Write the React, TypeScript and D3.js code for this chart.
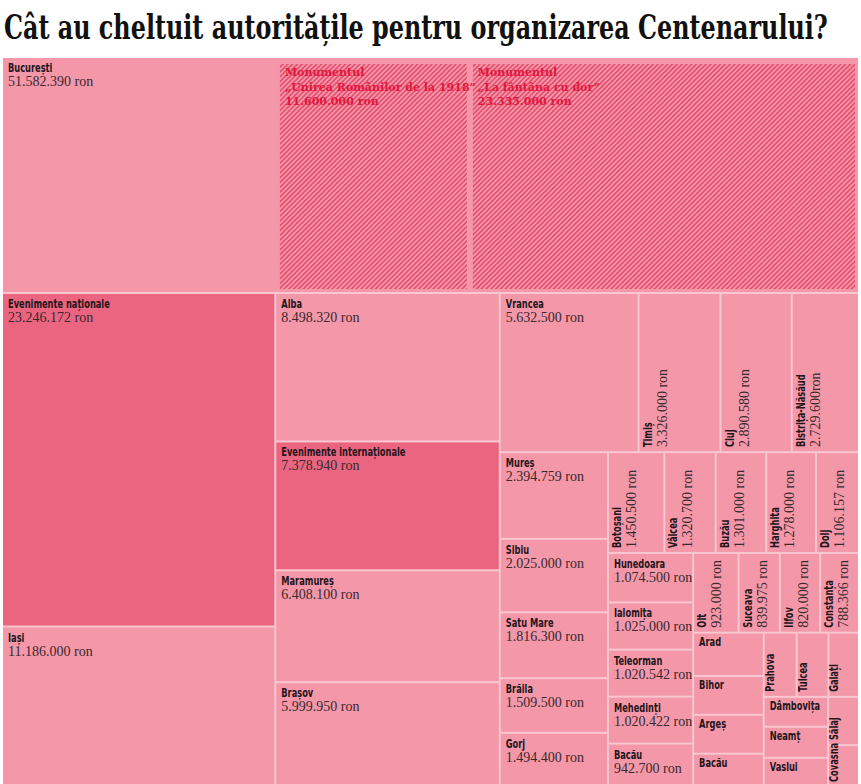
import React, { useLayoutEffect, useRef, useState } from "react";
import * as d3 from "d3";

type Item = [string, number];

const titlu = "Cât au cheltuit autoritățile pentru organizarea Centenarului?";

// Bucureşti, cu cele două monumente desenate în interior
const bucuresti: Item = ["București", 51582390];
const monumente: Item[] = [
  ["Monumentul|„Unirea Românilor de la 1918”|11.600.000 ron", 11600000],
  ["Monumentul|„La fântâna cu dor”|23.335.000 ron", 23335000],
];

const colA: Item[] = [
  ["Evenimente naționale", 23246172],
  ["Iași", 11186000],
];
const colB: Item[] = [
  ["Alba", 8498320],
  ["Evenimente internaționale", 7378940],
  ["Maramureș", 6408100],
  ["Brașov", 5999950],
];
const randC1: Item[] = [
  ["Vrancea", 5632500],
  ["Timiș", 3326000],
  ["Cluj", 2890580],
  ["Bistrița-Năsăud", 2729600],
];
const colC2: Item[] = [
  ["Mureș", 2394759],
  ["Sibiu", 2025000],
  ["Satu Mare", 1816300],
  ["Brăila", 1509500],
  ["Gorj", 1494400],
];
const randD: Item[] = [
  ["Botoșani", 1450500],
  ["Vâlcea", 1320700],
  ["Buzău", 1301000],
  ["Harghita", 1278000],
  ["Dolj", 1106157],
];
const colE: Item[] = [
  ["Hunedoara", 1074500],
  ["Ialomița", 1025000],
  ["Teleorman", 1020542],
  ["Mehedinți", 1020422],
  ["Bacău", 942700],
];
const randF: Item[] = [
  ["Olt", 923000],
  ["Suceava", 839975],
  ["Ilfov", 820000],
  ["Constanța", 788366],
];
// fără sumă afişată: valori estimate după suprafaţă
const colG: Item[] = [
  ["Arad", 780000],
  ["Bihor", 700000],
  ["Argeș", 700000],
  ["Bacău", 600000],
];
const randH: Item[] = [
  ["Prahova", 540000],
  ["Tulcea", 520000],
  ["Galați", 500000],
];
const colI: Item[] = [
  ["Dâmbovița", 490000],
  ["Neamț", 510000],
  ["Vaslui", 480000],
];
const colJ: Item[] = [
  ["Sălaj", 380000],
  ["Covasna", 330000],
];

const evenimente = ["Evenimente naționale", "Evenimente internaționale"];
const faraSpatiu = ["Bistrița-Năsăud"];

const W = 861;
const H = 784;
const X0 = 3;
const Y0 = 58;
const X1 = 858;
const Y1 = 786;
const TITLU_W = 824;

const ro = d3.formatLocale({ decimal: ",", thousands: ".", grouping: [3], currency: ["", ""] });
const fmt = ro.format(",");

const leaf = (show: boolean) => ([name, value]: Item) => ({ name, value, show });
const group = (dir: string, ...children: any[]) => ({ dir, children });

const tree = group(
  "v",
  {
    name: bucuresti[0],
    total: bucuresti[1],
    show: true,
    dir: "h",
    children: [
      { name: "rest", value: bucuresti[1] - d3.sum(monumente, (m) => m[1]), hidden: true },
      ...monumente.map(([name, value]) => ({ name, value, hatch: true })),
    ],
  },
  group(
    "h",
    group("v", ...colA.map(leaf(true))),
    group("v", ...colB.map(leaf(true))),
    group(
      "v",
      group("h", ...randC1.map(leaf(true))),
      group(
        "h",
        group("v", ...colC2.map(leaf(true))),
        group(
          "v",
          group("h", ...randD.map(leaf(true))),
          group(
            "h",
            group("v", ...colE.map(leaf(true))),
            group(
              "v",
              group("h", ...randF.map(leaf(true))),
              group(
                "h",
                group("v", ...colG.map(leaf(false))),
                group(
                  "v",
                  group("h", ...randH.map(leaf(false))),
                  group("h", group("v", ...colI.map(leaf(false))), group("v", ...colJ.map(leaf(false))))
                )
              )
            )
          )
        )
      )
    )
  )
);

const isBuc = (n: any) => n.data.name === bucuresti[0];

const tile = (node: any, x0: number, y0: number, x1: number, y1: number) =>
  (node.data.dir === "h" ? d3.treemapDice : d3.treemapSlice)(node, x0, y0, x1, y1);

const root = d3
  .treemap<any>()
  .tile(tile)
  .size([X1 - X0, Y1 - Y0])
  .paddingInner((n) => (isBuc(n) ? 6 : 2))
  .paddingTop((n) => (isBuc(n) ? 6 : 0))
  .paddingRight((n) => (isBuc(n) ? 3 : 0))
  .paddingBottom((n) => (isBuc(n) ? 3 : 0))(
  d3.hierarchy<any>(tree).sum((d) => (d.children ? 0 : d.value || 0))
);

const cells = root.descendants().filter((d: any) => d.data.name && !d.data.hidden);

const FONT_NUME = "'DejaVu Sans Condensed', 'DejaVu Sans', sans-serif";
const FONT_VAL = "'Liberation Serif', serif";
const NARROW = 0.8; // numele sunt într-un font foarte îngust

const Eticheta = ({ d }: { d: any }) => {
  const w = d.x1 - d.x0;
  const h = d.y1 - d.y0;
  const name: string = d.data.name;
  if (d.data.hatch) {
    return (
      <text transform={`translate(${d.x0 + 5},${d.y0})`} fill="#e3173e" fontFamily="'DejaVu Serif', serif" fontWeight={700} fontSize={11}>
        {name.split("|").map((l, i) => (
          <tspan key={i} x={0} y={12 + i * 14.5}>
            {l}
          </tspan>
        ))}
      </text>
    );
  }
  const v = d.data.total ?? d.data.value;
  const valoare = fmt(v) + (faraSpatiu.includes(name) ? "ron" : " ron");
  const vertical = w < 80 && h > w;
  const show = d.data.show;
  const nume = (y: number) => (
    <text
      transform={`translate(0,${y}) scale(${NARROW},1)`}
      fontFamily={FONT_NUME}
      fontWeight={700}
      fontSize={11.5}
      fill="#24151a"
    >
      {name}
    </text>
  );
  if (vertical) {
    return (
      <g transform={`translate(${d.x0},${d.y1 - 4}) rotate(-90)`}>
        {nume(show ? 12 : 9)}
        {show && (
          <text y={27} fontFamily={FONT_VAL} fontSize={14} fill="#3a292d">
            {valoare}
          </text>
        )}
      </g>
    );
  }
  return (
    <g transform={`translate(${d.x0 + 5},${d.y0})`}>
      {nume(show ? 14 : 12)}
      {show && (
        <text y={28} fontFamily={FONT_VAL} fontSize={14} fill="#3a292d">
          {valoare}
        </text>
      )}
    </g>
  );
};

const Titlu = () => {
  const ref = useRef<SVGTextElement | null>(null);
  const [sx, setSx] = useState(0.8);
  useLayoutEffect(() => {
    if (ref.current) {
      const w = ref.current.getComputedTextLength();
      if (w > 0) setSx(TITLU_W / w);
    }
  }, []);
  return (
    <text
      ref={ref}
      transform={`translate(4,39) scale(${sx},1)`}
      fontFamily="'DejaVu Serif Condensed', 'DejaVu Serif', serif"
      fontWeight={700}
      fontSize={33}
      fill="#111"
    >
      {titlu}
    </text>
  );
};

export default function App() {
  return (
    <svg width={W} height={H} style={{ position: "absolute", left: 0, top: 0, background: "#fff" }}>
      <defs>
        <pattern id="hasura" patternUnits="userSpaceOnUse" width={3.4} height={3.4} patternTransform="rotate(45)">
          <rect width={3.4} height={3.4} fill="#f497ab" />
          <line x1={1.7} y1={0} x2={1.7} y2={3.4} stroke="#e44866" strokeWidth={1.5} />
        </pattern>
      </defs>
      <Titlu />
      <g transform={`translate(${X0},${Y0})`}>
        <rect x={0} y={0} width={X1 - X0} height={Y1 - Y0} fill="#f9c7d0" />
        {cells.map((d: any, i: number) => (
          <rect
            key={i}
            x={d.x0}
            y={d.y0}
            width={d.x1 - d.x0}
            height={d.y1 - d.y0}
            fill={d.data.hatch ? "url(#hasura)" : evenimente.includes(d.data.name) ? "#eb6581" : "#f397a9"}
          />
        ))}
        {cells.map((d: any, i: number) => (
          <Eticheta key={i} d={d} />
        ))}
      </g>
    </svg>
  );
}
